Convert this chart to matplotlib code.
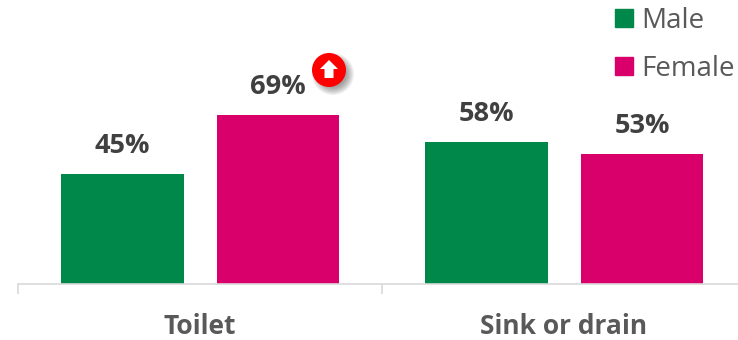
import numpy as np
import matplotlib
matplotlib.use("Agg")
import matplotlib.pyplot as plt
from matplotlib.patches import Circle, Polygon, Patch

categories = ["Toilet", "Sink or drain"]
male = [45, 58]
female = [69, 53]
GREEN = "#00874a"
PINK = "#d9006c"
GREY = "#595959"
W, H = 738, 340

plt.rcParams['font.family'] = ['Open Sans', 'DejaVu Sans']

fig = plt.figure(figsize=(W / 100, H / 100), dpi=100)
# the axis runs on past the right edge of the picture, as in the original
ax = fig.add_axes([18 / W, 1 - 283.5 / H, 728 / W, 200 / H])
ax.set_xlim(0, 2)
ax.set_ylim(0, 200 / 2.44)

x = np.arange(len(categories)) + 0.5
bar_w = 0.337
bars_m = ax.bar(x - 0.2125, male, bar_w, color=GREEN, label="Male")
bars_f = ax.bar(x + 0.2145, female, bar_w, color=PINK, label="Female")

for bars in (bars_m, bars_f):
    for b in bars:
        ax.annotate(f"{b.get_height():.0f}%", (b.get_x() + b.get_width() / 2, b.get_height()),
                    xytext=(0, 20), textcoords="offset points", ha="center", va="center",
                    fontsize=19.5, fontweight="bold", color="#404040", annotation_clip=False)

for s in ("top", "right", "left"):
    ax.spines[s].set_visible(False)
ax.spines["bottom"].set_color("#d9d9d9")
ax.spines["bottom"].set_linewidth(1.2)
ax.set_yticks([])
ax.set_xticks([0, 1, 2])
ax.set_xticklabels([])
ax.tick_params(axis="x", length=7, width=1.2, color="#d9d9d9")
ax.set_xticks(x, minor=True)
ax.set_xticklabels(categories, minor=True, fontsize=19, fontweight="bold", color=GREY)
ax.tick_params(axis="x", which="minor", length=0, pad=21)

handles = [Patch(color=GREEN, label="Male"), Patch(color=PINK, label="Female")]
fig.legend(handles=handles, loc="upper left", bbox_to_anchor=(609 / W, 1 - 1 / H), frameon=False,
           fontsize=20, labelcolor=GREY, handlelength=0.65, handleheight=0.65,
           handletextpad=0.32, labelspacing=0.72, borderpad=0.2, borderaxespad=0)

# red arrow badge, placed in figure pixels
def px(cx, cy):
    return cx / W, 1 - cy / H

def badge_circle(cx, cy, r, **kw):
    fig.add_artist(Circle((cx, H - cy), r, transform=None, **kw))

for i in range(7):
    badge_circle(333, 74, 21 - i * 1.2, color="black", alpha=0.06, lw=0)
badge_circle(329, 70, 17, color="#fe0000", lw=0)
arrow = [(329, 60), (338, 69), (333.5, 69), (333.5, 78), (324.5, 78), (324.5, 69), (320, 69)]
fig.add_artist(Polygon([px(a, b) for a, b in arrow], closed=True, color="white", lw=0,
                       transform=fig.transFigure))

fig.savefig("out.png", dpi=100)
